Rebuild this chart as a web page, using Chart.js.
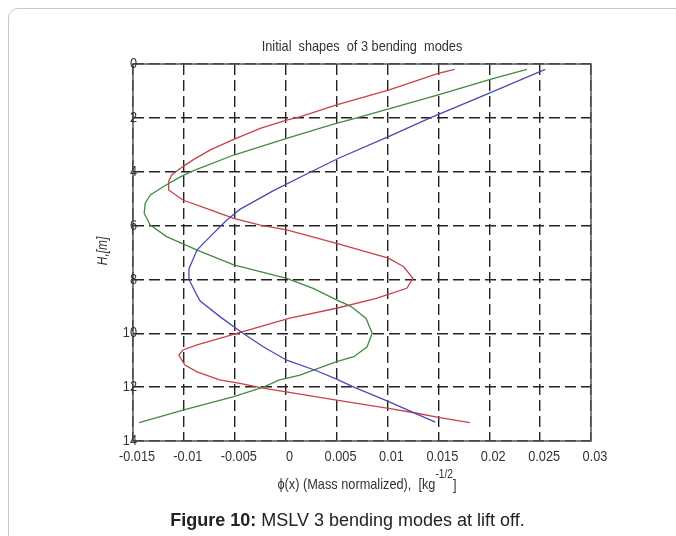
<!DOCTYPE html>
<html>
<head>
<meta charset="utf-8">
<script src="https://cdn.jsdelivr.net/npm/chart.js@4/dist/chart.umd.min.js"></script>
<style>
  html, body { margin: 0; padding: 0; background: #fff; overflow: hidden; }
  body { width: 676px; height: 536px; position: relative; }
  .card {
    position: absolute; left: 8px; top: 8px; width: 720px; height: 600px;
    border: 1px solid #c8c8c8; border-radius: 10px; box-sizing: border-box;
  }
  #chart { position: absolute; left: 0; top: 0; }
  .caption {
    position: absolute; left: 0; top: 510px; width: 695px; text-align: center;
    font-family: "Liberation Sans", Arial, sans-serif; font-size: 18px; color: #222;
  }
</style>
</head>
<body>
<div class="card"></div>
<canvas id="chart" width="676" height="536"></canvas>
<div class="caption"><b>Figure 10:</b> MSLV 3 bending modes at lift off.</div>

<script>
// Titulos e eixos
const chartTitle = 'Initial  shapes  of 3 bending  modes';
const xTitle = 'ϕ(x) (Mass normalized),  [kg';
const xTitleSup = '-1/2';
const yTitle = 'H,[m]';
const xTicks = [-0.015, 0.03, 0.005];   // min, max, passo
const yTicks = [0, 14, 2];

// Modo 1 (azul)
const mode1H   = [0.2, 1.1, 2.0, 2.7, 3.5, 4.0, 4.7, 5.4, 5.8, 6.4, 6.9, 7.6, 8.0, 8.6, 8.8, 9.4, 10.0, 10.5, 11.0, 11.4, 11.7, 12.0, 12.5, 13.0, 13.3];
const mode1Phi = [0.0255, 0.0199, 0.0142, 0.0101, 0.0052, 0.0025, -0.0012, -0.0045, -0.0058, -0.0074, -0.0087, -0.0095, -0.0095, -0.0087, -0.0084, -0.0064, -0.0042, -0.0022, 0.0001, 0.0031, 0.0050, 0.0067, 0.0099, 0.0129, 0.0147];

// Modo 2 (verde)
const mode2H   = [0.2, 0.57, 1.15, 1.65, 2.0, 2.23, 2.76, 3.38, 4.0, 4.2, 4.55, 4.86, 5.17, 5.55, 5.98, 6.41, 6.91, 7.46, 7.71, 7.96, 8.33, 8.76, 9.0, 9.45, 10.0, 10.5, 10.87, 11.05, 11.55, 11.73, 12.0, 12.35, 12.85, 13.1, 13.32];
const mode2Phi = [0.0237, 0.0201, 0.0150, 0.0103, 0.0070, 0.0047, 0.0001, -0.0051, -0.0093, -0.0104, -0.0120, -0.0133, -0.0138, -0.0139, -0.0133, -0.0117, -0.0087, -0.0051, -0.0025, 0.0001, 0.0027, 0.0050, 0.0064, 0.0079, 0.0085, 0.0080, 0.0067, 0.0050, 0.0014, -0.0006, -0.0022, -0.0051, -0.0101, -0.0124, -0.0144];

// Modo 3 (vermelho)
const mode3H   = [0.2, 0.35, 0.97, 1.52, 1.96, 2.08, 2.39, 2.80, 3.19, 3.56, 3.81, 4.12, 4.37, 4.68, 5.05, 5.42, 5.73, 5.98, 6.16, 6.66, 7.21, 7.53, 7.96, 8.33, 8.70, 9.07, 9.44, 9.94, 10.43, 10.62, 10.81, 11.18, 11.43, 11.73, 11.86, 12.04, 12.48, 12.79, 12.97, 13.12, 13.32];
const mode3Phi = [0.0166, 0.0150, 0.0101, 0.0050, 0.0014, 0.0001, -0.0025, -0.0051, -0.0074, -0.0091, -0.0101, -0.0112, -0.0115, -0.0115, -0.0101, -0.0074, -0.0051, -0.0025, 0.0001, 0.0050, 0.0101, 0.0116, 0.0125, 0.0119, 0.0089, 0.0050, 0.0004, -0.0042, -0.0087, -0.0101, -0.0105, -0.0099, -0.0087, -0.0065, -0.0045, -0.0022, 0.0050, 0.0101, 0.0129, 0.0150, 0.0181];

const fontFam = '"Liberation Sans", Arial, sans-serif';
const squeeze = 0.85;   // texto estreito tipo MATLAB

function toPoints(hs, phis) {
    return phis.map((x, i) => ({ x: x, y: hs[i] }));
}

function line(hs, phis, color) {
    return {
        data: toPoints(hs, phis),
        borderColor: color,
        borderWidth: 1.3,
        pointRadius: 0,
        showLine: true,
        tension: 0
    };
}

// escreve texto comprimido na horizontal
function narrowText(ctx, text, x, y, align) {
    ctx.save();
    ctx.translate(x, y);
    ctx.scale(squeeze, 1);
    ctx.textAlign = align;
    ctx.fillText(text, 0, 0);
    ctx.restore();
}

function fmt(v) {
    return String(Number(v.toFixed(3)));
}

// Moldura, rotulos e titulos
const framePlugin = {
    id: 'frame',
    afterDraw(chart) {
        const { ctx, chartArea: a } = chart;
        const xs = chart.scales.x, ys = chart.scales.y;
        ctx.save();
        ctx.strokeStyle = '#555';
        ctx.lineWidth = 1.5;
        ctx.strokeRect(a.left, a.top, a.right - a.left, a.bottom - a.top);

        ctx.fillStyle = '#333';
        ctx.textBaseline = 'middle';
        ctx.font = '15px ' + fontFam;
        xs.ticks.forEach(t => {
            narrowText(ctx, fmt(t.value), xs.getPixelForValue(t.value) + 4, 457, 'center');
        });
        ys.ticks.forEach(t => {
            narrowText(ctx, fmt(t.value), a.left + 4, ys.getPixelForValue(t.value), 'right');
        });

        ctx.font = '15px ' + fontFam;
        narrowText(ctx, chartTitle, 362, 47, 'center');

        // titulo do eixo x com expoente
        ctx.textBaseline = 'alphabetic';
        ctx.font = '15px ' + fontFam;
        const w1 = ctx.measureText(xTitle).width * squeeze;
        const w3 = ctx.measureText(']').width * squeeze;
        ctx.font = '12px ' + fontFam;
        const w2 = ctx.measureText(xTitleSup).width * squeeze;
        const x0 = 367 - (w1 + w2 + w3) / 2;
        ctx.font = '15px ' + fontFam;
        narrowText(ctx, xTitle, x0, 489, 'left');
        narrowText(ctx, ']', x0 + w1 + w2, 490, 'left');
        ctx.font = '12px ' + fontFam;
        narrowText(ctx, xTitleSup, x0 + w1, 478, 'left');

        // titulo do eixo y
        ctx.translate(103, 251);
        ctx.rotate(-Math.PI / 2);
        ctx.textBaseline = 'middle';
        ctx.font = 'italic 14px ' + fontFam;
        narrowText(ctx, yTitle, 0, 0, 'center');
        ctx.restore();
    }
};

new Chart(document.getElementById('chart'), {
    type: 'scatter',
    data: {
        datasets: [
            line(mode1H, mode1Phi, '#4a4ab4'),
            line(mode2H, mode2Phi, '#3f8c3f'),
            line(mode3H, mode3Phi, '#c8404c')
        ]
    },
    options: {
        responsive: false,
        animation: false,
        layout: { padding: { left: 0, top: 64, right: 85, bottom: 55 } },
        plugins: { legend: { display: false }, tooltip: { enabled: false } },
        scales: {
            x: {
                type: 'linear',
                min: xTicks[0],
                max: xTicks[1],
                afterFit: s => { s.height = 40; },
                ticks: {
                    stepSize: xTicks[2],
                    autoSkip: false,
                    maxRotation: 0,
                    color: 'rgba(0,0,0,0)'
                },
                grid: { color: '#222', lineWidth: 1.4, drawTicks: false },
                border: { display: false, dash: [11, 5] }
            },
            y: {
                type: 'linear',
                reverse: true,
                min: yTicks[0],
                max: yTicks[1],
                afterFit: s => { s.width = 133; },
                ticks: {
                    stepSize: yTicks[2],
                    color: 'rgba(0,0,0,0)'
                },
                grid: { color: '#222', lineWidth: 1.4, drawTicks: false },
                border: { display: false, dash: [11, 5] }
            }
        }
    },
    plugins: [framePlugin]
});
</script>
</body>
</html>
